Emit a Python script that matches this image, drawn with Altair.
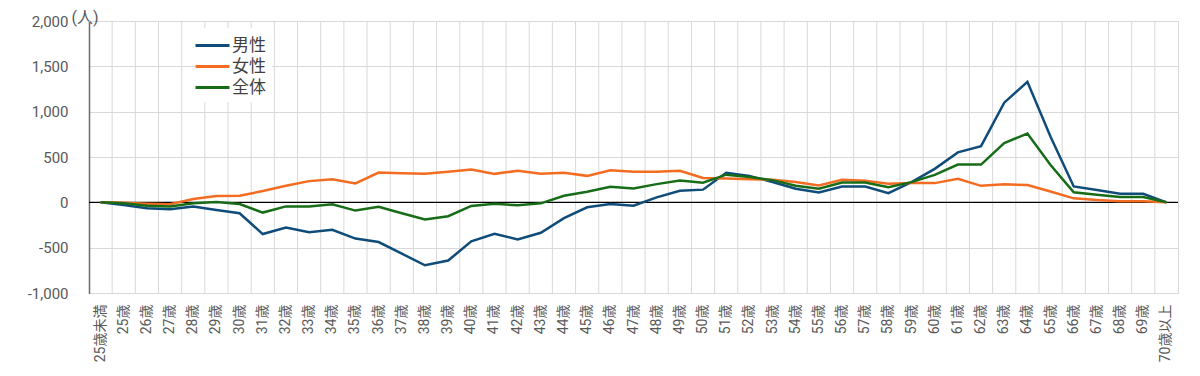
import altair as alt
import pandas as pd

categories = ["25歳未満", "25歳", "26歳", "27歳", "28歳", "29歳", "30歳", "31歳", "32歳", "33歳",
              "34歳", "35歳", "36歳", "37歳", "38歳", "39歳", "40歳", "41歳", "42歳", "43歳",
              "44歳", "45歳", "46歳", "47歳", "48歳", "49歳", "50歳", "51歳", "52歳", "53歳",
              "54歳", "55歳", "56歳", "57歳", "58歳", "59歳", "60歳", "61歳", "62歳", "63歳",
              "64歳", "65歳", "66歳", "67歳", "68歳", "69歳", "70歳以上"]

male = [0, -30, -65, -75, -47, -85, -120, -350, -277, -330, -303, -400, -438,
        -566, -694, -642, -431, -347, -409, -336, -175, -55, -18, -37, 55, 128, 140,
        327, 292, 225, 150, 110, 175, 175, 102, 223, 369, 551, 620, 1099, 1329,
        723, 175, 135, 95, 95, 0]
female = [0, -5, -15, -20, 37, 70, 73, 124, 183, 234, 255, 208, 329,
          321, 314, 336, 361, 314, 347, 314, 325, 292, 354, 336, 336, 347, 268,
          262, 255, 250, 223, 186, 248, 237, 204, 212, 212, 259, 182, 200, 190,
          120, 44, 25, 11, 11, 0]
total = [0, -10, -37, -45, -10, 4, -18, -113, -45, -45, -22, -91, -50,
         -120, -190, -153, -40, -15, -33, -11, 73, 117, 172, 153, 201, 241, 217,
         305, 280, 245, 182, 150, 219, 219, 168, 223, 303, 416, 416, 653, 759,
         412, 110, 84, 58, 58, 0]

series = ["男性", "女性", "全体"]
colors = ["#0f4c7a", "#f36c21", "#176d17"]
y_ticks = [-1000, -500, 0, 500, 1000, 1500, 2000]

rows = []
for s, vals in zip(series, [male, female, total]):
    for c, v in zip(categories, vals):
        rows.append({"age": c, "series": s, "value": v})
df = pd.DataFrame(rows)
cat_df = pd.DataFrame({"age": categories})
zero_df = pd.DataFrame({"value": [0]})

FONT = "Roboto, 'Noto Sans CJK JP', sans-serif"

xscale = alt.Scale(type="band", domain=categories, paddingInner=0, paddingOuter=0)
yscale = alt.Scale(domain=[-1000, 2000], nice=False, zero=False)

xaxis = alt.Axis(title=None, labelAngle=270, grid=False, ticks=False, domain=False,
                 labelPadding=11, labelFontSize=14, labelColor="#595959", labelFont=FONT,
                 labelOverlap=False, labelAlign="right", labelBaseline="middle")
yaxis = alt.Axis(values=y_ticks, format=",.0f", grid=True, gridColor="#d9d9d9", gridWidth=1,
                 domain=True, domainColor="black", domainWidth=1.3, ticks=False,
                 labelPadding=21, labelFontSize=15, labelColor="#595959", labelFont=FONT,
                 labelExpr="replace(format(datum.value, ',.0f'), '−', '-')",
                 title="(人)", titleAngle=0, titleX=-18, titleY=-4, titleAlign="left",
                 titleBaseline="middle", titleFontSize=16, titleFontWeight="normal",
                 titleColor="#595959", titleFont=FONT)

grid = alt.Chart(cat_df).mark_rule(color="#d9d9d9", strokeWidth=1).encode(
    x=alt.X("age:N", scale=xscale, axis=xaxis, bandPosition=0)
)

zero = alt.Chart(zero_df).mark_rule(color="black", strokeWidth=1.3).encode(
    y=alt.Y("value:Q", scale=yscale, axis=yaxis)
)

lines = alt.Chart(df).mark_line(strokeWidth=2.5).encode(
    x=alt.X("age:N", scale=xscale, axis=xaxis, bandPosition=0.5),
    y=alt.Y("value:Q", scale=yscale, axis=yaxis),
    color=alt.Color("series:N", sort=series,
                    scale=alt.Scale(domain=series, range=colors),
                    legend=alt.Legend(title=None, orient="none", legendX=106, legendY=7,
                                      fillColor="white", padding=6,
                                      symbolType="M-1.7,0L1.7,0", symbolSize=400,
                                      symbolStrokeWidth=3, labelFontSize=17, labelFont=FONT,
                                      labelColor="#404040", labelOffset=8, rowPadding=1)),
    order=alt.Order("series:N")
)

chart = alt.layer(grid, zero, lines).properties(
    width=1089, height=272,
    autosize=alt.AutoSizeParams(type="none"),
    padding={"left": 81, "top": 13, "right": 14, "bottom": 75}
).configure_view(stroke="#d9d9d9", strokeWidth=1)

chart.save("out.html", embed_options={"renderer": "svg", "actions": False})
